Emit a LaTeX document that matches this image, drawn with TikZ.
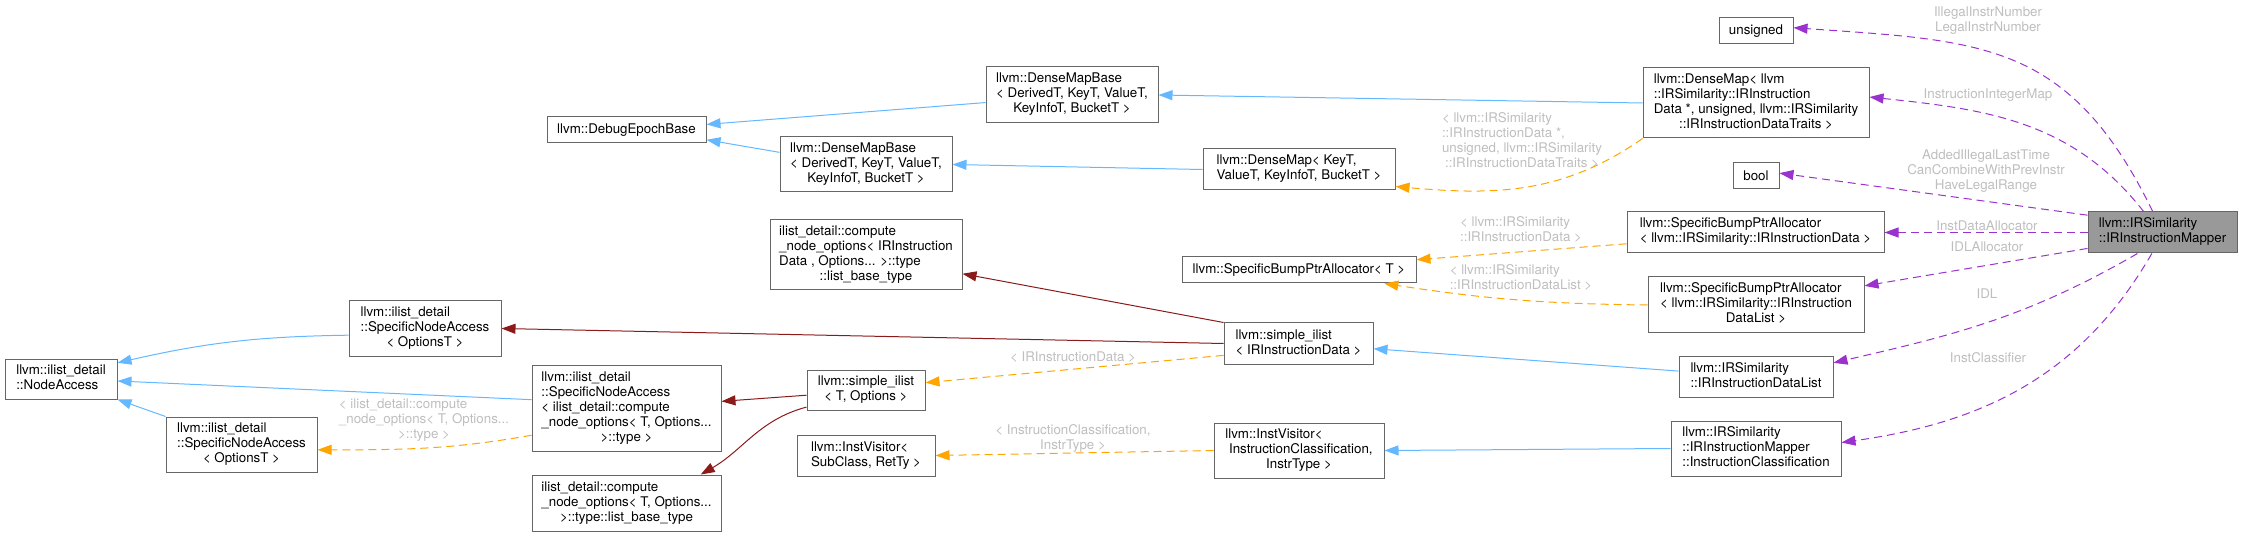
\documentclass[tikz,border=0pt]{standalone}
\usepackage{fontspec}
\setmainfont{TeX Gyre Heros}
\usetikzlibrary{arrows.meta}
\definecolor{boxgray}{HTML}{666666}
\definecolor{mapgray}{HTML}{999999}
\definecolor{inhblue}{HTML}{63B8FF}
\definecolor{privred}{HTML}{8B1A1A}
\definecolor{tmplorange}{HTML}{FFA500}
\definecolor{usepurple}{HTML}{9A32CD}
\definecolor{lblgray}{HTML}{BEBEBE}
\newcommand{\doxlines}[1]{\begin{tabular}{@{}l@{}}#1\end{tabular}}
\newcommand{\doxlast}[1]{\multicolumn{1}{@{}c@{}}{#1}}
\tikzset{
    cls/.style 2 args={draw=boxgray,fill=white,line width=1pt,inner sep=0pt,
        minimum width=#1pt,minimum height=#2pt},
    doxtip/.style={-{Triangle[length=14pt,width=10pt]}},
    inh/.style={doxtip,draw=inhblue,line width=1pt},
    priv/.style={doxtip,draw=privred,line width=1pt},
    tmpl/.style={doxtip,draw=tmplorange,line width=1pt,dash pattern=on 8pt off 5pt},
    usage/.style={doxtip,draw=usepurple,line width=1pt,dash pattern=on 8pt off 5pt},
    lbl/.style={text=lblgray,inner sep=0pt,align=center},
}
\begin{document}
\begin{tikzpicture}[x=1pt,y=-1pt,font=\fontsize{13.33}{15}\selectfont]
    \useasboundingbox (0,0) rectangle (2241,537);
    \node[cls={149}{41},fill=mapgray] (mapper) at (2162.5,232.5) {\doxlines{llvm::IRSimilarity\\::IRInstructionMapper}};
    \node[cls={74}{26}] (unsig) at (1756,31) {unsigned};
    \node[cls={226}{70}] (dmapir) at (1756,103) {\doxlines{llvm::DenseMap< llvm\\::IRSimilarity::IRInstruction\\Data *, unsigned, llvm::IRSimilarity\\\doxlast{::IRInstructionDataTraits >}}};
    \node[cls={46}{26}] (boolt) at (1756,176) {bool};
    \node[cls={257}{41}] (sbpadata) at (1755.5,232.5) {\doxlines{llvm::SpecificBumpPtrAllocator\\< llvm::IRSimilarity::IRInstructionData >}};
    \node[cls={216}{56}] (sbpalist) at (1756,305) {\doxlines{llvm::SpecificBumpPtrAllocator\\< llvm::IRSimilarity::IRInstruction\\\doxlast{DataList >}}};
    \node[cls={154}{41}] (idlist) at (1756,376.5) {\doxlines{llvm::IRSimilarity\\::IRInstructionDataList}};
    \node[cls={170}{55}] (iclass) at (1756,448.5) {\doxlines{llvm::IRSimilarity\\::IRInstructionMapper\\::InstructionClassification}};
    \node[cls={172}{56}] (dmbase1) at (1072,95) {\doxlines{llvm::DenseMapBase\\< DerivedT, KeyT, ValueT,\\\doxlast{KeyInfoT, BucketT >}}};
    \node[cls={192}{41}] (dmap) at (1299,169.5) {\doxlines{llvm::DenseMap< KeyT,\\\doxlast{ValueT, KeyInfoT, BucketT >}}};
    \node[cls={234}{26}] (sbpat) at (1299,270) {llvm::SpecificBumpPtrAllocator< T >};
    \node[cls={149}{41}] (silistir) at (1298.5,343.5) {\doxlines{llvm::simple\_ilist\\< IRInstructionData >}};
    \node[cls={170}{55}] (ivisitic) at (1299,450.5) {\doxlines{llvm::InstVisitor<\\\ InstructionClassification,\\\doxlast{InstrType >}}};
    \node[cls={159}{26}] (epoch) at (626.5,130) {llvm::DebugEpochBase};
    \node[cls={172}{55}] (dmbase2) at (866,164.5) {\doxlines{llvm::DenseMapBase\\< DerivedT, KeyT, ValueT,\\\doxlast{KeyInfoT, BucketT >}}};
    \node[cls={192}{70}] (cnoir) at (866,255) {\doxlines{ilist\_detail::compute\\\_node\_options< IRInstruction\\Data , Options... >::type\\\doxlast{::list\_base\_type}}};
    \node[cls={152}{55}] (snaopt1) at (425,328.5) {\doxlines{llvm::ilist\_detail\\::SpecificNodeAccess\\\doxlast{< OptionsT >}}};
    \node[cls={112}{40}] (nodeacc) at (61,379) {\doxlines{llvm::ilist\_detail\\::NodeAccess}};
    \node[cls={189}{86}] (snacno) at (626.5,408) {\doxlines{llvm::ilist\_detail\\::SpecificNodeAccess\\< ilist\_detail::compute\\\_node\_options< T, Options...\\\doxlast{>::type >}}};
    \node[cls={118}{40}] (silistt) at (866,390) {\doxlines{llvm::simple\_ilist\\\doxlast{< T, Options >}}};
    \node[cls={138}{41}] (ivisit) at (866,455.5) {\doxlines{llvm::InstVisitor<\\\doxlast{SubClass, RetTy >}}};
    \node[cls={151}{55}] (snaopt2) at (241.5,444.5) {\doxlines{llvm::ilist\_detail\\::SpecificNodeAccess\\\doxlast{< OptionsT >}}};
    \node[cls={189}{56}] (cnot) at (626.5,503) {\doxlines{ilist\_detail::compute\\\_node\_options< T, Options...\\\doxlast{>::type::list\_base\_type}}};
    \node[lbl] (lunsig) at (1988,20.5) {IllegalInstrNumber\\LegalInstrNumber};
    \node[lbl] (ldmapir) at (1988,95) {InstructionIntegerMap};
    \node[lbl] (lboolt) at (1986,171) {AddedIllegalLastTime\\CanCombineWithPrevInstr\\HaveLegalRange};
    \node[lbl] (lsbpadata) at (1987,226) {InstDataAllocator};
    \node[lbl] (lsbpalist) at (1987,247) {IDLAllocator};
    \node[lbl] (lidlist) at (1987,294) {IDL};
    \node[lbl] (liclass) at (1988,358) {InstClassifier};
    \node[lbl] (ltdmap) at (1522,142) {\doxlines{< llvm::IRSimilarity\\::IRInstructionData *,\\unsigned, llvm::IRSimilarity\\\doxlast{::IRInstructionDataTraits >}}};
    \node[lbl] (ltsbpadata) at (1521,231) {\doxlines{< llvm::IRSimilarity\\::IRInstructionData >}};
    \node[lbl] (ltsbpalist) at (1521,279) {\doxlines{< llvm::IRSimilarity\\::IRInstructionDataList >}};
    \node[lbl] (ltsilist) at (1073,357) {< IRInstructionData >};
    \node[lbl] (ltivisit) at (1073,439) {\doxlines{< InstructionClassification,\\\doxlast{InstrType >}}};
    \node[lbl] (ltsna) at (424,420) {\doxlines{< ilist\_detail::compute\\\_node\_options< T, Options...\\\doxlast{>::type >}}};
    \draw[inh] (dmbase1.185) -- (epoch.4);
    \draw[inh] (dmbase2.172) -- (epoch.353);
    \draw[inh] (dmapir.west) -- (dmbase1.east);
    \draw[inh] (dmap.west) -- (dmbase2.east);
    \draw[inh] (snaopt1.185) to[bend right=6] (nodeacc.16);
    \draw[inh] (snacno.175) -- (nodeacc.358);
    \draw[inh] (snaopt2.north west) -- (nodeacc.south east);
    \draw[inh] (idlist.176) -- (silistir.356);
    \draw[inh] (iclass.west) -- (ivisitic.east);
    \draw[priv] (silistir.north west) -- (cnoir.349);
    \draw[priv] (silistir.west) -- (snaopt1.east);
    \draw[priv] (silistt.185) -- (snacno.4);
    \draw[priv] (silistt.196) to[out=195,in=30] (cnot.21);
    \draw[tmpl] (dmapir.south west) to[out=215,in=355] (dmap.350);
    \draw[tmpl] (sbpadata.185) -- (sbpat.5);
    \draw[tmpl] (sbpalist.west) to[bend left=4] (sbpat.351);
    \draw[tmpl] (silistir.189) -- (silistt.7);
    \draw[tmpl] (ivisitic.west) -- (ivisit.east);
    \draw[tmpl] (snacno.196) to[out=190,in=0] (snaopt2.356);
    \draw[usage] (mapper.115) to[out=116,in=356,looseness=1.2] (unsig.5);
    \draw[usage] (mapper.132) to[out=128,in=354] (dmapir.3);
    \draw[usage] (mapper.167) -- (boolt.7);
    \draw[usage] (mapper.west) -- (sbpadata.east);
    \draw[usage] (mapper.192) -- (sbpalist.10);
    \draw[usage] (mapper.220) to[out=210,in=13] (idlist.10);
    \draw[usage] (mapper.243) to[out=240,in=8] (iclass.4);
\end{tikzpicture}
\end{document}
